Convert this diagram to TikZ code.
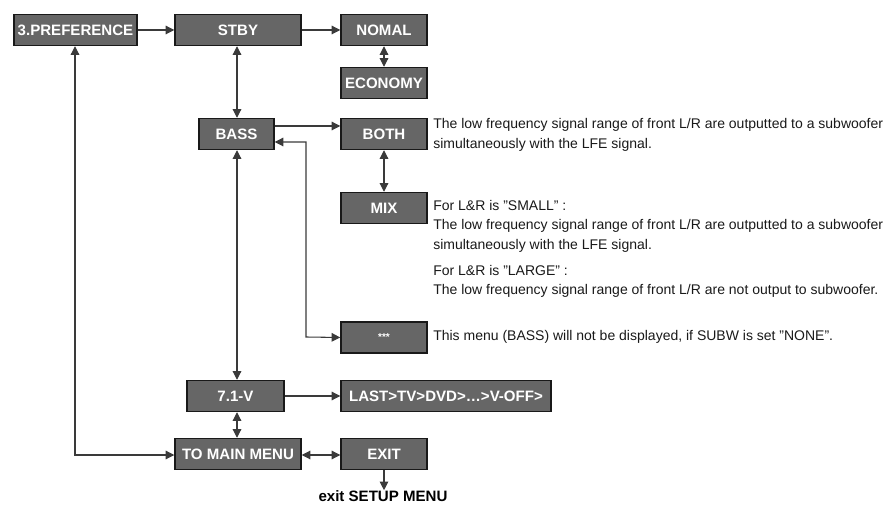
\documentclass[tikz,border=0pt]{standalone}
\usepackage{fontspec}
\setmainfont{Liberation Sans}
\usetikzlibrary{arrows.meta}
\definecolor{boxfill}{HTML}{666666}
\definecolor{lnc}{HTML}{3A3A3A}
\def\u{0.75pt}
\newcommand{\sq}{\symbol{34}}
\tikzset{
  bx/.style={draw=black!90, line width=1.1pt, fill=boxfill, text=white, inner sep=0pt,
    font=\fontsize{11.3}{13}\selectfont\bfseries, minimum height=31*\u},
  con/.style={draw=lnc, line width=0.8pt},
  tip/.style={-{Triangle[length=6.5pt,width=6.5pt]}},
  dtip/.style={{Triangle[length=6.5pt,width=6.5pt]}-{Triangle[length=6.5pt,width=6.5pt]}},
  desc/.style={anchor=west, align=left, inner sep=0pt, text=black!90,
    font=\fontsize{10.5}{14.6}\selectfont},
}
\begin{document}
\begin{tikzpicture}[x=0.75pt,y=-0.75pt]
\useasboundingbox (0,0) rectangle (888,509);
% boxes
\node[bx, minimum width=123*\u] (pref) at (75.5,30) {3.PREFERENCE};
\node[bx, minimum width=126*\u] (stby) at (238,30) {STBY};
\node[bx, minimum width=86*\u] (nomal) at (384,30) {NOMAL};
\node[bx, minimum width=86*\u] (eco) at (384,83) {ECONOMY};
\node[bx, minimum width=75*\u] (bass) at (236.5,134) {BASS};
\node[bx, minimum width=86*\u] (both) at (384,134) {BOTH};
\node[bx, minimum width=86*\u] (mix) at (384,208) {MIX};
\node[bx, minimum width=86*\u, font=\fontsize{7.5}{8}\selectfont\bfseries] (star) at (384,337.5) {***};
\node[bx, minimum width=97*\u] (v71) at (235.5,396) {7.1-V};
\node[bx, minimum width=210*\u] (last) at (446,396) {LAST>TV>DVD>…>V-OFF>};
\node[bx, minimum width=126*\u] (tomain) at (238,454) {TO MAIN MENU};
\node[bx, minimum width=86*\u] (exit) at (384,454) {EXIT};
\node[inner sep=0pt, font=\fontsize{11.3}{13}\selectfont\bfseries] (exittxt) at (383,496) {exit SETUP MENU};
% descriptions
\node[desc] (dboth) at (433,135) {The low frequency signal range of front L/R are outputted to a subwoofer\\simultaneously with the LFE signal.};
\node[desc] (dmix) at (433,226) {For L\&R is \sq SMALL\sq{} :\\The low frequency signal range of front L/R are outputted to a subwoofer\\simultaneously with the LFE signal.};
\node[desc] (dlarge) at (433,281.5) {For L\&R is \sq LARGE\sq{} :\\The low frequency signal range of front L/R are not output to subwoofer.};
\node[desc] (dstar) at (433,337) {This menu (BASS) will not be displayed, if SUBW is set \sq NONE\sq.};
% coordinates
\coordinate (bassE1) at (bass.east |- 0,126);
\coordinate (bothW1) at (both.west |- 0,126);
\coordinate (bassE2) at (bass.east |- 0,142);
\coordinate (cornA) at (306,142);
\coordinate (cornB) at (306,337);
\coordinate (cornL) at (75,455);
% connectors
\draw[con,tip] (pref) -- (stby);
\draw[con,tip] (stby) -- (nomal);
\draw[con,dtip] (nomal) -- (eco);
\draw[con,dtip] (stby.south -| 237,0) -- (bass.north -| 237,0);
\draw[con,tip] (bassE1) -- (bothW1);
\draw[con,dtip] (bassE2) -- (cornA) -- (cornB) -- (star.west);
\draw[con,dtip] (both) -- (mix);
\draw[con,dtip] (bass.south -| 237,0) -- (v71.north -| 237,0);
\draw[con,tip] (v71) -- (last);
\draw[con,dtip] (v71.south -| 237,0) -- (tomain.north -| 237,0);
\draw[con,dtip] (pref.south -| cornL) -- (cornL) -- (tomain.west |- cornL);
\draw[con,dtip] (tomain.east |- 0,455) -- (exit.west |- 0,455);
\draw[con,tip] (exit.south -| 384,0) -- (exittxt.north -| 384,0);
\end{tikzpicture}
\end{document}
